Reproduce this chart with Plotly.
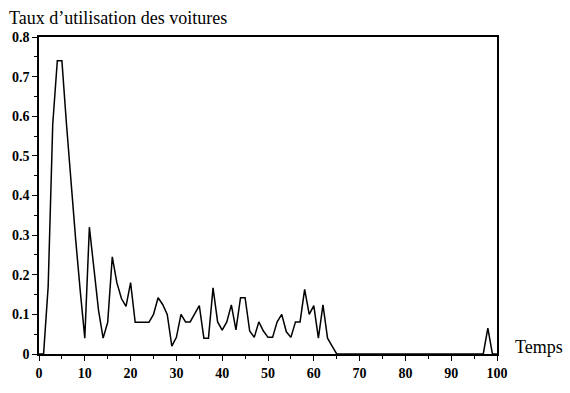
import plotly.graph_objects as go

# Time steps and car utilisation rate
temps = list(range(0, 101))
taux = [
    0.0, 0.0, 0.17, 0.58, 0.74, 0.74, 0.58, 0.43, 0.29, 0.16,
    0.04, 0.32, 0.21, 0.11, 0.04, 0.08, 0.245, 0.18, 0.14, 0.12,
    0.18, 0.08, 0.08, 0.08, 0.08, 0.10, 0.142, 0.125, 0.10, 0.02,
    0.042, 0.10, 0.081, 0.081, 0.10, 0.122, 0.04, 0.04, 0.167, 0.081,
    0.06, 0.081, 0.124, 0.061, 0.142, 0.142, 0.058, 0.042, 0.081, 0.058,
    0.042, 0.042, 0.081, 0.10, 0.056, 0.042, 0.081, 0.081, 0.163, 0.10,
    0.122, 0.04, 0.124, 0.04, 0.02, 0.0, 0.0, 0.0, 0.0, 0.0,
    0.0, 0.0, 0.0, 0.0, 0.0, 0.0, 0.0, 0.0, 0.0, 0.0,
    0.0, 0.0, 0.0, 0.0, 0.0, 0.0, 0.0, 0.0, 0.0, 0.0,
    0.0, 0.0, 0.0, 0.0, 0.0, 0.0, 0.0, 0.0, 0.065, 0.0,
    0.0,
]

x_ticks = [0, 10, 20, 30, 40, 50, 60, 70, 80, 90, 100]
y_ticks = [0, 0.1, 0.2, 0.3, 0.4, 0.5, 0.6, 0.7, 0.8]
y_tick_text = ["0", "0.1", "0.2", "0.3", "0.4", "0.5", "0.6", "0.7", "0.8"]

title_text = "Taux d’utilisation des voitures"
x_title = "Temps"

serif = "Liberation Serif"

fig = go.Figure()
fig.add_trace(go.Scatter(
    x=temps, y=taux, mode="lines",
    line=dict(color="black", width=1.5),
    showlegend=False, hoverinfo="skip",
))

axis_common = dict(
    showline=True, linecolor="black", linewidth=1.5, mirror=True,
    showgrid=False, zeroline=False,
    ticks="outside", ticklen=5, tickwidth=1, tickcolor="black",
    tickfont=dict(family=serif, size=14, color="black", weight="bold"),
)

fig.update_xaxes(
    range=[0, 100], tickvals=x_ticks,
    minor=dict(ticks="outside", dtick=5, ticklen=3, tickcolor="black", tickwidth=1),
    **axis_common,
)
fig.update_yaxes(
    range=[0, 0.8], tickvals=y_ticks, ticktext=y_tick_text,
    minor=dict(ticks="outside", dtick=0.05, ticklen=3, tickcolor="black", tickwidth=1),
    **axis_common,
)

fig.add_annotation(
    text=title_text, xref="paper", yref="paper",
    x=-0.0696, y=1.06, xanchor="left", yanchor="middle",
    showarrow=False, font=dict(family=serif, size=18, color="black"),
)
fig.add_annotation(
    text=x_title, xref="paper", yref="paper",
    x=1.035, y=0.022, xanchor="left", yanchor="middle",
    showarrow=False, font=dict(family=serif, size=18, color="black"),
)

fig.update_layout(
    width=570, height=393,
    margin=dict(l=37, r=73, t=37, b=31),
    paper_bgcolor="white", plot_bgcolor="white",
)

fig.write_html("out.html")
